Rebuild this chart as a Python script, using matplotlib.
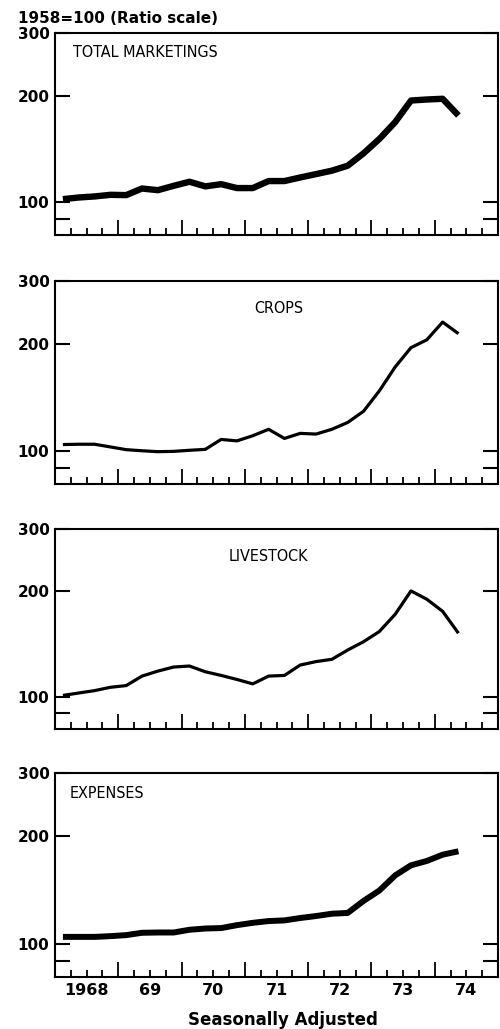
import numpy as np
import matplotlib
matplotlib.use("Agg")
import matplotlib.pyplot as plt
from matplotlib.ticker import FixedLocator, FixedFormatter, NullFormatter
from matplotlib import font_manager

# Quarterly index values, 1968 Q1 through 1974 Q2 (1958=100)
total_marketings = [102.2, 103.3, 104.0, 105.1, 104.9, 109.5, 108.3, 111.4, 114.4, 111.0,
                    112.6, 109.8, 109.8, 114.9, 114.9, 117.6, 120.2, 122.9, 126.9, 137.5,
                    150.9, 168.3, 193.6, 194.9, 195.8, 175.7]
crops = [104.5, 104.7, 104.7, 102.9, 101.1, 100.4, 99.8, 100.0, 100.7, 101.3,
         108.0, 107.0, 110.6, 115.3, 108.7, 112.3, 111.8, 115.3, 120.5, 129.5,
         147.7, 172.3, 195.2, 205.3, 230.2, 213.6]
livestock = [100.9, 102.5, 104.1, 106.4, 107.6, 114.5, 118.3, 121.5, 122.3, 117.8,
             115.0, 112.0, 108.8, 114.5, 115.0, 123.1, 125.9, 127.8, 135.8, 143.4,
             153.3, 171.6, 200.0, 189.4, 175.0, 151.6]
expenses = [104.8, 104.8, 104.8, 105.3, 106.0, 107.6, 107.8, 107.8, 109.7, 110.6,
            110.9, 113.0, 114.7, 116.0, 116.5, 118.3, 119.8, 121.6, 122.2, 132.0,
            141.1, 155.5, 165.9, 170.6, 177.6, 181.5]

year_labels = ["1968", "69", "70", "71", "72", "73", "74"]
first_year = 1968

# x position of each quarter = middle of the quarter
quarter_x = first_year + (np.arange(len(total_marketings)) + 0.5) / 4.0

panels = [
    ("TOTAL MARKETINGS", total_marketings, 4.6, (0.04, 0.905, "left")),
    ("CROPS", crops, 2.3, (0.506, 0.865, "center")),
    ("LIVESTOCK", livestock, 2.3, (0.481, 0.865, "center")),
    ("EXPENSES", expenses, 4.3, (0.034, 0.90, "left")),
]

# axes boxes in figure fraction: (bottom, top)
boxes = [(0.7716, 0.968), (0.5296, 0.7269), (0.2916, 0.4859), (0.0505, 0.2488)]
left, right = 0.11, 0.996

# look for a narrow sans face for the panel names
narrow = None
for f in font_manager.fontManager.ttflist:
    if f.stretch in ("condensed", "semi-condensed") or "Narrow" in f.name or "Condensed" in f.name:
        if f.weight in (400, "normal", "regular", "book") and f.style == "normal":
            narrow = f.fname
            break
title_props = (font_manager.FontProperties(fname=narrow, size=11.5) if narrow
               else font_manager.FontProperties(family="Liberation Sans", size=10))

fig = plt.figure(figsize=(5.0, 10.29), dpi=100)

axes = []
for (name, values, lw, (tx, ty, ha)), (b, t) in zip(panels, boxes):
    ax = fig.add_axes([left, b, right - left, t - b])
    ax.plot(quarter_x, values, color="black", linewidth=lw,
            solid_joinstyle="round", solid_capstyle="butt")
    ax.set_yscale("log")
    ax.set_ylim(81, 300)
    ax.set_xlim(first_year, first_year + len(year_labels))

    ax.yaxis.set_major_locator(FixedLocator([100, 200, 300]))
    ax.yaxis.set_major_formatter(FixedFormatter(["100", "200", "300"]))
    ax.yaxis.set_minor_locator(FixedLocator([90]))
    ax.yaxis.set_minor_formatter(NullFormatter())

    years = np.arange(first_year, first_year + len(year_labels) + 1)
    ax.xaxis.set_major_locator(FixedLocator(years))
    ax.xaxis.set_major_formatter(NullFormatter())
    quarters = [y + q / 4 for y in years[:-1] for q in (1, 2, 3)]
    ax.xaxis.set_minor_locator(FixedLocator(quarters))
    ax.xaxis.set_minor_formatter(NullFormatter())

    ax.tick_params(axis="y", which="both", direction="in", left=True, right=True,
                   length=11, width=1.5, labelsize=11, pad=4)
    ax.tick_params(axis="x", which="major", direction="in", bottom=True, top=False,
                   length=11, width=1.3)
    ax.tick_params(axis="x", which="minor", direction="in", bottom=True, top=False,
                   length=5, width=1.3)
    for lab in ax.get_yticklabels():
        lab.set_fontweight("bold")
    for sp in ax.spines.values():
        sp.set_linewidth(1.5)

    ax.text(tx, ty, name, transform=ax.transAxes, ha=ha, va="center",
            fontproperties=title_props)
    axes.append(ax)

# year labels on the bottom panel, centred in each year
bottom_ax = axes[-1]
for i, lab in enumerate(year_labels):
    bottom_ax.text(first_year + i + 0.5, -0.065, lab, transform=bottom_ax.get_xaxis_transform(),
                   ha="center", va="center", fontsize=11.5, fontweight="bold")

fig.text(0.036, 0.9825, "1958=100 (Ratio scale)", ha="left", va="center",
         fontsize=11, fontweight="bold")
fig.text(0.566, 0.009, "Seasonally Adjusted", ha="center", va="center",
         fontsize=12, fontweight="bold")

fig.savefig("out.png", dpi=100)
